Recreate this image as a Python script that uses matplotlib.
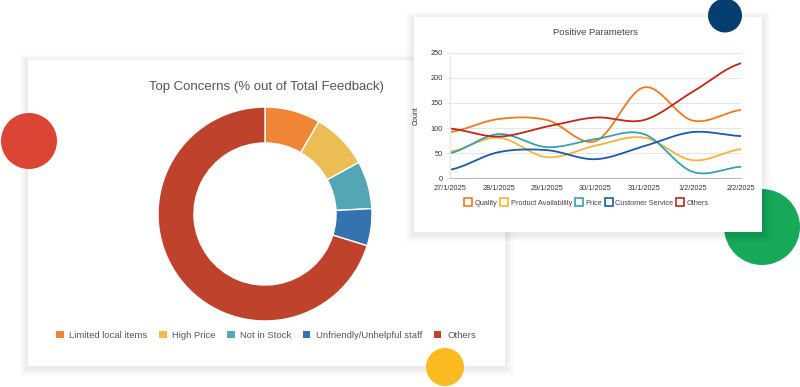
import matplotlib
matplotlib.use('Agg')
import matplotlib.pyplot as plt
from matplotlib.patches import Rectangle, Circle, Patch
from matplotlib.lines import Line2D
import numpy as np

plt.rcParams['font.family'] = ['Liberation Sans', 'DejaVu Sans']

# donut data (% of total feedback)
concern_labels = ['Limited local items', 'High Price', 'Not in Stock',
                  'Unfriendly/Unhelpful staff', 'Others']
concern_values = [8.4, 8.6, 7.2, 5.6, 70.2]
concern_colors = ['#EF8535', '#ECBC55', '#52A6B5', '#3572B0', '#BF432C']

# line chart data
dates = ['27/1/2025', '28/1/2025', '29/1/2025', '30/1/2025',
         '31/1/2025', '1/2/2025', '2/2/2025']
quality = [92, 118, 116, 74, 181, 115, 136]
product_availability = [53, 81, 42, 65, 81, 36, 58]
price = [50, 88, 62, 78, 88, 13, 23]
customer_service = [17, 52, 56, 38, 64, 92, 84]
others = [99, 83, 103, 121, 116, 172, 229]
series_names = ['Quality', 'Product Availability', 'Price',
                'Customer Service', 'Others']
series_colors = ['#F07A1C', '#F2B53A', '#3AA0B0', '#1B5AA6', '#C0271A']


def smooth(x, y, n=30):
    # catmull-rom through the points, for drawing only
    x = np.asarray(x, float)
    y = np.asarray(y, float)
    px = np.concatenate([[2 * x[0] - x[1]], x, [2 * x[-1] - x[-2]]])
    py = np.concatenate([[y[0]], y, [y[-1]]])
    xs, ys = [], []
    t = np.linspace(0, 1, n)
    for i in range(1, len(px) - 2):
        for p, out in ((px, xs), (py, ys)):
            p0, p1, p2, p3 = p[i - 1], p[i], p[i + 1], p[i + 2]
            out.append(0.5 * (2 * p1 + (-p0 + p2) * t
                              + (2 * p0 - 5 * p1 + 4 * p2 - p3) * t ** 2
                              + (-p0 + 3 * p1 - 3 * p2 + p3) * t ** 3))
    return np.concatenate(xs), np.concatenate(ys)


def card(ax, x0, y0, x1, y1, z):
    # soft shadow, a bit heavier below
    for k in range(1, 11):
        ax.add_patch(Rectangle((x0 - k * 0.9, y0 - k * 0.7 + 1.5),
                               x1 - x0 + 1.8 * k, y1 - y0 + 1.4 * k + 1,
                               facecolor='#000000', alpha=0.0075, lw=0, zorder=z))
    ax.add_patch(Rectangle((x0, y0), x1 - x0, y1 - y0, facecolor='white',
                           lw=0, zorder=z + 0.5))


fig = plt.figure(figsize=(8, 3.87), dpi=100)
bg = fig.add_axes([0, 0, 1, 1], zorder=0)
bg.set_xlim(0, 800)
bg.set_ylim(387, 0)
bg.axis('off')

card(bg, 28, 60, 505, 366, 1)
bg.add_patch(Circle((29, 141), 28, color='#DA4535', lw=0, zorder=3))
bg.add_patch(Circle((445, 367), 19, color='#FBBA20', lw=0, zorder=3))
bg.add_patch(Circle((762, 227), 38, color='#17A85A', lw=0, zorder=3))
card(bg, 414, 17, 762, 232, 4)
bg.add_patch(Circle((725, 15.5), 17, color='#063E70', lw=0, zorder=6))

# donut
bg.text(266, 87, 'Top Concerns (% out of Total Feedback)', ha='center',
        va='center', fontsize=9.5, color='#555555', zorder=3)
dax = fig.add_axes([(265 - 115) / 800, 1 - (214 + 115) / 387, 230 / 800, 230 / 387],
                   zorder=1)
dax.pie(concern_values, colors=concern_colors, startangle=90, counterclock=False,
        radius=1, wedgeprops=dict(width=0.336, edgecolor='white', linewidth=1))
dax.set_xlim(-1.075, 1.075)
dax.set_ylim(-1.075, 1.075)
dax.set_aspect('equal')
dax.axis('off')

handles = [Patch(facecolor=c, edgecolor='none') for c in concern_colors]
leg = bg.legend(handles, concern_labels, ncol=5, loc='center',
                bbox_to_anchor=(266, 335), bbox_transform=bg.transData,
                frameon=False, fontsize=6.8, handlelength=0.8, handleheight=0.8,
                handletextpad=0.6, columnspacing=1.2, labelcolor='#555555')
leg.set_zorder(3)

# line chart
lax = fig.add_axes([450 / 800, 1 - 178.3 / 387, 291 / 800, 125.6 / 387], zorder=2)
lax.patch.set_alpha(0)
x = np.arange(len(dates))
for vals, c in zip([quality, product_availability, price, customer_service, others],
                   series_colors):
    sx, sy = smooth(x, vals)
    lax.plot(sx, sy, color=c, lw=1.3, solid_capstyle='round')
lax.set_xlim(0, 6)
lax.set_ylim(0, 250)
lax.set_yticks(range(0, 251, 50))
lax.set_xticks(x)
lax.set_xticklabels(dates)
lax.grid(axis='y', color='#e6e6e6', lw=0.8)
lax.set_axisbelow(True)
for s in ['top', 'right']:
    lax.spines[s].set_visible(False)
lax.spines['left'].set_color('#e6e6e6')
lax.spines['bottom'].set_color('#bbbbbb')
lax.tick_params(axis='both', labelsize=5.3, colors='#333333', length=3,
                width=0.6, pad=2)
lax.tick_params(axis='y', color='#dddddd')
lax.tick_params(axis='x', length=0, pad=5)
lax.set_ylabel('Count', fontsize=5, color='#333333', labelpad=8)
lax.set_title('Positive Parameters', fontsize=6.8, color='#444444', pad=13)

lh = [Line2D([], [], marker='s', ls='none', markersize=5.5, markerfacecolor='white',
             markeredgecolor=c, markeredgewidth=1.2) for c in series_colors]
lax.legend(lh, series_names, ncol=5, loc='center', bbox_to_anchor=(587, 203),
           bbox_transform=bg.transData, frameon=False, fontsize=5.3,
           handlelength=0.8, handletextpad=0.5, columnspacing=0.5,
           labelcolor='#444444')

fig.savefig('out.png', dpi=100)
